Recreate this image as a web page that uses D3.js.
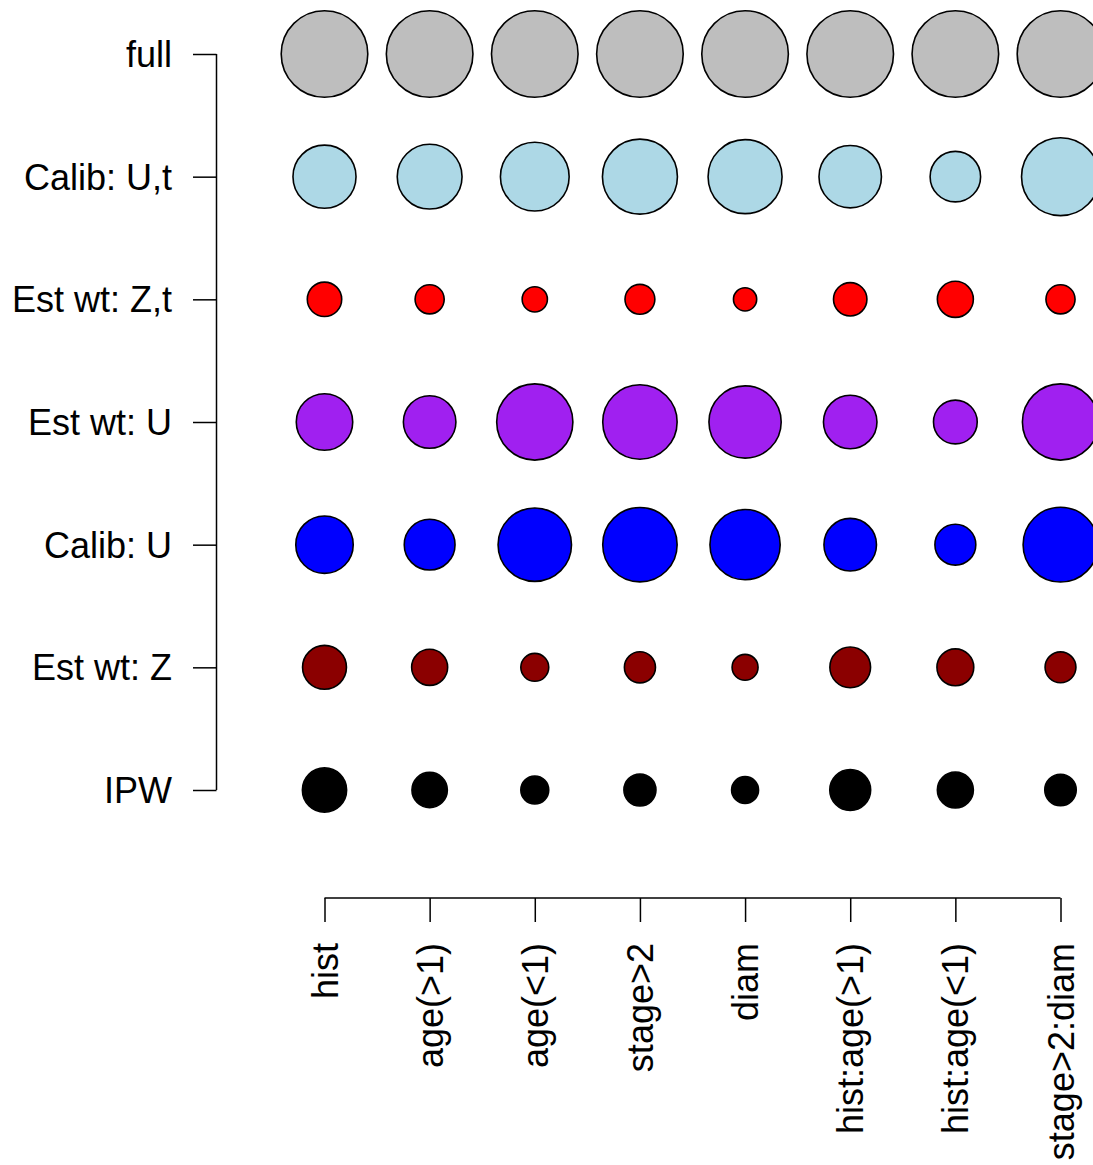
<!DOCTYPE html>
<html>
<head>
<meta charset="utf-8">
<script src="https://cdn.jsdelivr.net/npm/d3@7"></script>
<style>
  html, body { margin: 0; padding: 0; background: #fff; }
  svg { display: block; }
  text { font-family: "Liberation Sans", Arial, Helvetica, sans-serif; fill: #000; }
</style>
</head>
<body>
<svg id="chart" width="1093" height="1165"></svg>
<script>
// Column categories (x axis)
const terms = ["hist", "age(>1)", "age(<1)", "stage>2", "diam", "hist:age(>1)", "hist:age(<1)", "stage>2:diam"];
// Row categories (y axis, top to bottom)
const methods = ["full", "Calib: U,t", "Est wt: Z,t", "Est wt: U", "Calib: U", "Est wt: Z", "IPW"];
// Fill colours per row
const rowColors = ["#BEBEBE", "#ADD8E6", "#FF0000", "#A020F0", "#0000FF", "#8B0000", "#000000"];

// Relative values per row (circle area relative to the full-data row)
const full     = [1.00, 1.00, 1.00, 1.00, 1.00, 1.00, 1.00, 1.00];
const calibUt  = [0.53, 0.56, 0.63, 0.75, 0.73, 0.52, 0.34, 0.81];
const estwtZt  = [0.158, 0.113, 0.085, 0.119, 0.072, 0.149, 0.173, 0.113];
const estwtU   = [0.425, 0.368, 0.774, 0.738, 0.696, 0.382, 0.255, 0.774];
const calibU   = [0.440, 0.344, 0.719, 0.738, 0.658, 0.368, 0.223, 0.746];
const estwtZ   = [0.257, 0.173, 0.104, 0.129, 0.090, 0.221, 0.181, 0.127];
const ipw      = [0.261, 0.167, 0.104, 0.137, 0.097, 0.223, 0.173, 0.132];

const rows = [full, calibUt, estwtZt, estwtU, calibU, estwtZ, ipw];

const svg = d3.select("#chart");
const W = 1093, H = 1165;
svg.append("rect").attr("width", W).attr("height", H).attr("fill", "#fff");

const x = d3.scalePoint().domain(terms).range([324.5, 1060.5]);
const y = d3.scalePoint().domain(methods).range([54, 790]);
const r = d3.scaleSqrt().domain([0, 1]).range([0, 43.3]);

const fontSize = 36;

// circles
const cells = [];
rows.forEach((vals, i) => {
  vals.forEach((v, j) => {
    cells.push({ method: methods[i], term: terms[j], value: v, color: rowColors[i] });
  });
});

svg.append("g")
  .selectAll("circle")
  .data(cells)
  .join("circle")
  .attr("cx", d => x(d.term))
  .attr("cy", d => y(d.method))
  .attr("r", d => r(d.value))
  .attr("fill", d => d.color)
  .attr("stroke", "#000")
  .attr("stroke-width", 1.6);

// Y axis (left)
const yAxisX = 216.5;
const yAxis = d3.axisLeft(y).tickSize(23.5).tickPadding(21).tickSizeOuter(0);
const gy = svg.append("g")
  .attr("transform", `translate(${yAxisX},0)`)
  .call(yAxis);
gy.select(".domain").remove();
gy.append("line")
  .attr("x1", 0).attr("x2", 0)
  .attr("y1", y(methods[0])).attr("y2", y(methods[methods.length - 1]))
  .attr("stroke", "#000").attr("stroke-width", 1.5);
gy.selectAll(".tick line").attr("stroke", "#000").attr("stroke-width", 1.5);
gy.selectAll(".tick text")
  .attr("font-size", fontSize)
  .attr("font-family", "Liberation Sans, Arial, Helvetica, sans-serif")
  .attr("fill", "#000")
  .attr("dy", "0.35em");

// X axis (below)
const xAxisY = 898;
const xAxis = d3.axisBottom(x).tickSize(24).tickPadding(0).tickSizeOuter(0);
const gx = svg.append("g")
  .attr("transform", `translate(0,${xAxisY})`)
  .call(xAxis);
gx.select(".domain").remove();
gx.append("line")
  .attr("x1", x(terms[0])).attr("x2", x(terms[terms.length - 1]))
  .attr("y1", 0).attr("y2", 0)
  .attr("stroke", "#000").attr("stroke-width", 1.5);
gx.selectAll(".tick line").attr("stroke", "#000").attr("stroke-width", 1.5);
gx.selectAll(".tick text")
  .attr("font-size", fontSize)
  .attr("font-family", "Liberation Sans, Arial, Helvetica, sans-serif")
  .attr("fill", "#000")
  .attr("text-anchor", "end")
  .attr("transform", "rotate(-90)")
  .attr("x", -45)
  .attr("y", 0)
  .attr("dy", "0.35em");
</script>
</body>
</html>
